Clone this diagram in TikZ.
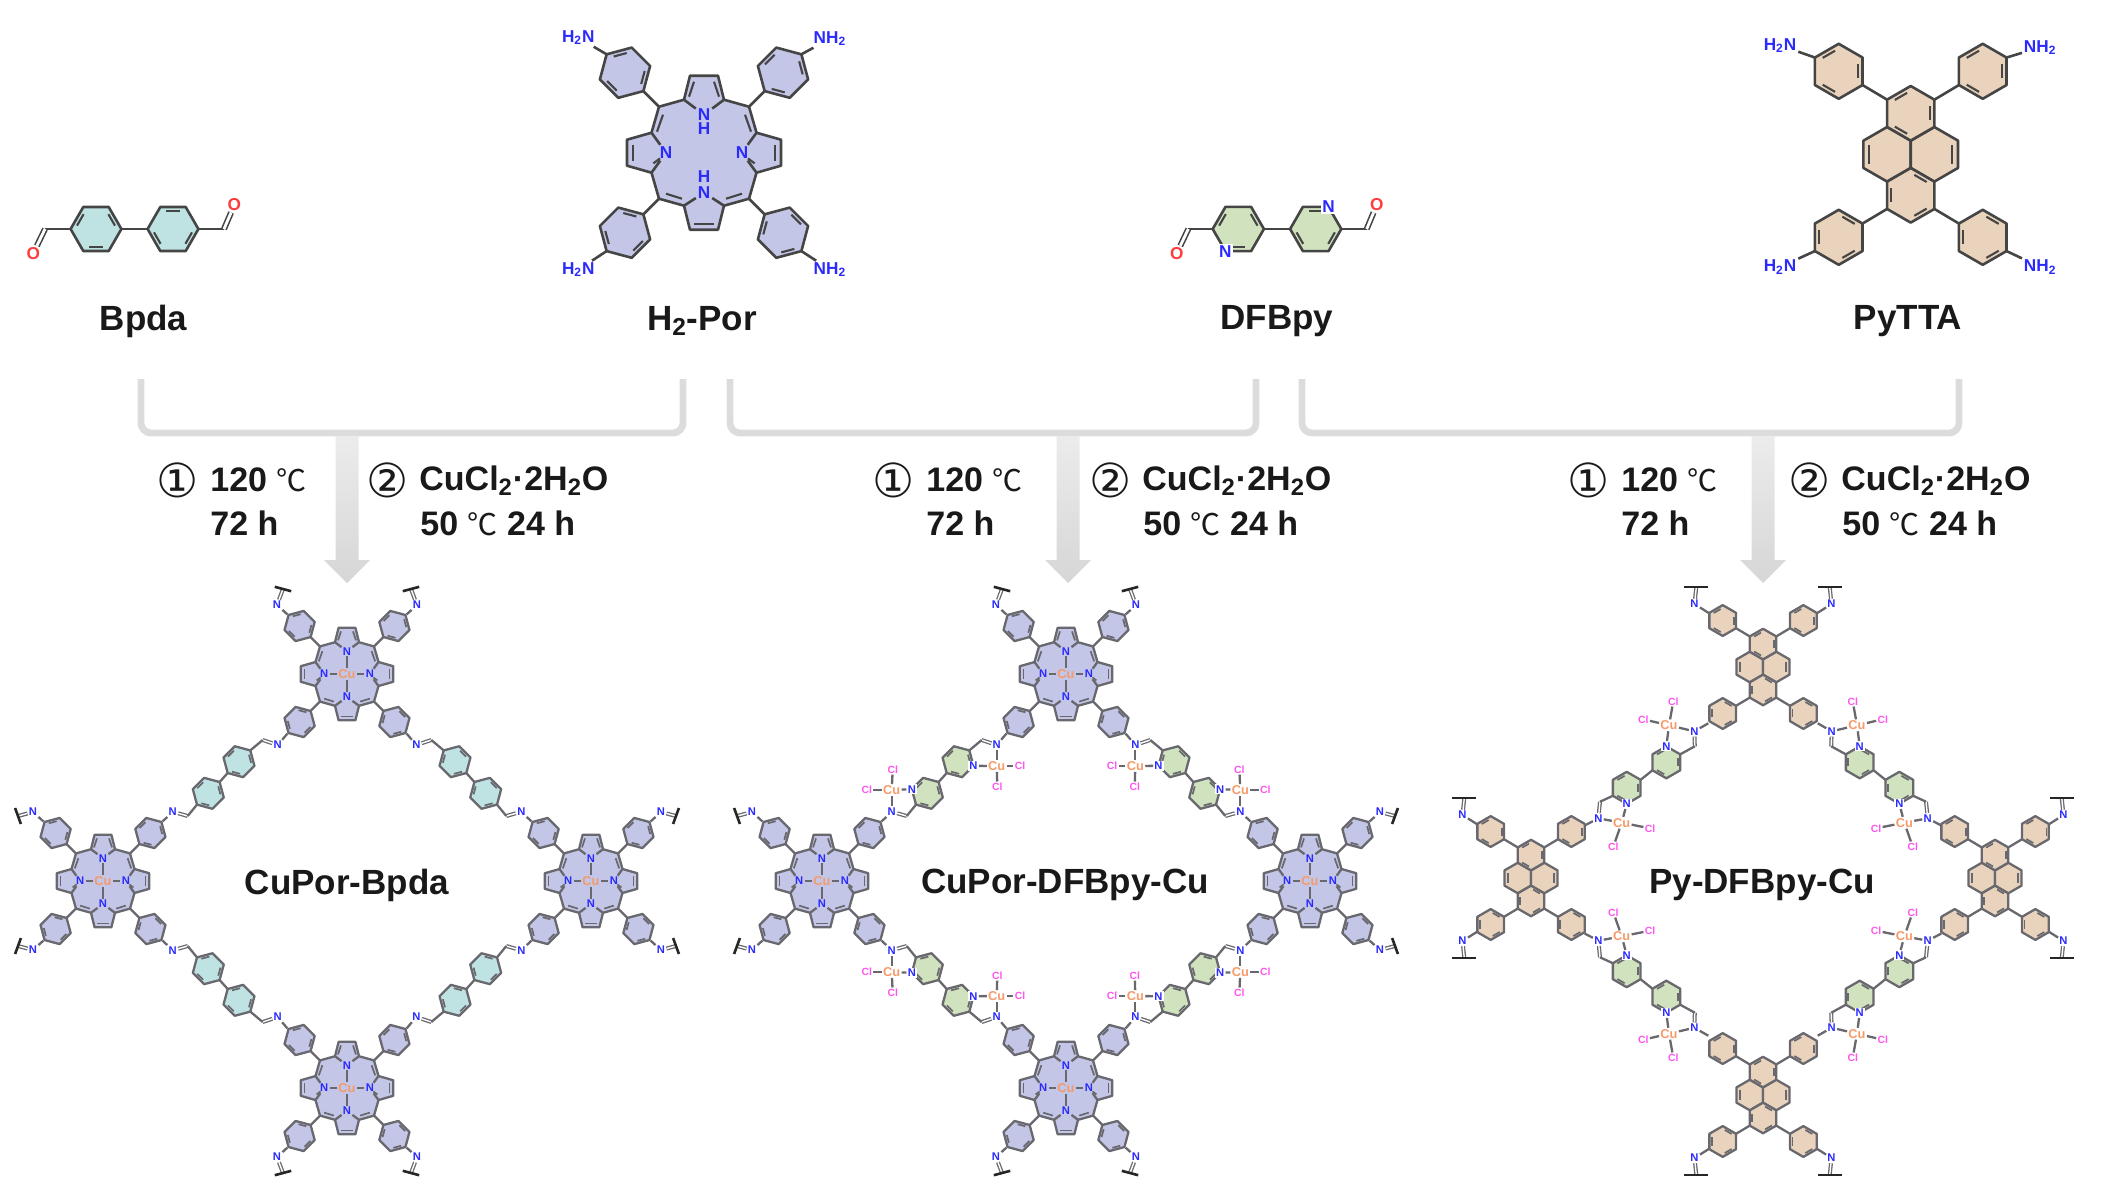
\documentclass[tikz,border=0pt]{standalone}
\usepackage{fontspec}
\setmainfont{Liberation Sans}
\newfontfamily\symf{DejaVu Sans}
\newfontfamily\cjk{Noto Sans CJK SC}
\usetikzlibrary{positioning}

\definecolor{porfill}{HTML}{C3C6E6}
\definecolor{bpdafill}{HTML}{BFE3E3}
\definecolor{bipyfill}{HTML}{D0E2BE}
\definecolor{pyrfill}{HTML}{E9D3BC}
\definecolor{nblue}{HTML}{2A2AFF}
\definecolor{ored}{HTML}{FF3B3B}
\definecolor{cuorange}{HTML}{F59A6A}
\definecolor{clpink}{HTML}{FF55EE}
\definecolor{inkdark}{HTML}{454545}
\definecolor{inkgrey}{HTML}{68686E}
\definecolor{brackgrey}{HTML}{DCDCDC}

\tikzset{
  bigmol/.style={
    bond/.style={draw=inkdark,line width=1.3pt,line join=round},
    inbond/.style={draw=inkdark,line width=1.05pt},
    dblbond/.style={draw=inkdark,line width=.8pt,double=white,double distance=1.4pt},
    nlab/.style={text=nblue,inner sep=.8pt,font=\bfseries\fontsize{8.6}{9}\selectfont}},
  smallmol/.style={
    bond/.style={draw=inkgrey,line width=1.15pt,line join=round},
    inbond/.style={draw=inkgrey,line width=.85pt},
    imine/.style={draw=inkgrey,line width=.65pt,double=white,double distance=.7pt},
    capbar/.style={draw=black!85,line width=1.3pt},
    nlab/.style={text=nblue,inner sep=.5pt,font=\bfseries\fontsize{5.6}{6}\selectfont},
    culab/.style={text=cuorange,inner sep=.5pt,font=\bfseries\fontsize{6.4}{7}\selectfont},
    cllab/.style={text=clpink,inner sep=.5pt,font=\bfseries\fontsize{5.2}{6}\selectfont}},
  namelab/.style={text=black!90,inner sep=0pt,font=\bfseries\fontsize{17.5}{20}\selectfont},
  cond/.style={text=black!90,inner sep=0pt,anchor=base west,font=\bfseries\fontsize{17}{20}\selectfont},
  numlab/.style={text=black!90,inner sep=0pt,font=\symf\fontsize{23.5}{24}\selectfont},
  oxlab/.style={text=ored,inner sep=.5pt,font=\bfseries\fontsize{8.6}{9}\selectfont},
  bracket/.style={draw=brackgrey,line width=3.4pt,rounded corners=5pt}
}

% hexagon: x, y, radius, rotation, fill
\newcommand{\benz}[5]{%
  \begin{scope}[shift={(#1,#2)}]
    \draw[bond,fill=#5] (#4:#3) -- (#4+60:#3) -- (#4+120:#3) -- (#4+180:#3) -- (#4+240:#3) -- (#4+300:#3) -- cycle;
    \foreach \a in {60,180,300}
      \draw[inbond] (#4+\a+10:.76*#3) -- (#4+\a+50:.76*#3);
  \end{scope}}

% porphyrin macrocycle, #1 = distance of the lower N
\newcommand{\porcore}[1]{%
  \draw[bond,fill=porfill] (-45,-46) -- (-20,-53) -- (-14,-77) -- (14,-77) -- (20,-53) -- (45,-46)
    -- (52.5,-20) -- (77,-13) -- (77,13) -- (52.5,20) -- (45,46) -- (20,53) -- (14,77) -- (-14,77)
    -- (-20,53) -- (-45,46) -- (-52.5,20) -- (-77,13) -- (-77,-13) -- (-52.5,-20) -- cycle;
  \node[nlab] (pnt) at (0,-38) {N};
  \node[nlab] (pnb) at (0,#1) {N};
  \node[nlab] (pnl) at (-38,0) {N};
  \node[nlab] (pnr) at (38,0) {N};
  \foreach \sx in {-1,1} {
    \draw[bond] (\sx*20,-53) -- (pnt);
    \draw[bond] (\sx*20,53) -- (pnb);
    \draw[bond] (-52.5,\sx*20) -- (pnl);
    \draw[bond] (52.5,\sx*20) -- (pnr);
    \draw[inbond] (\sx*10,-71) -- (\sx*15,-56);
    \draw[inbond] (\sx*41,-38) -- (\sx*47,-21);
    \draw[inbond] (\sx*71,-8) -- (\sx*71,8);
    \draw[inbond] (\sx*50.7,10.7) -- (\sx*44,5.7);
    \draw[inbond] (\sx*38,41) -- (\sx*22,46);
  }
  \draw[inbond] (-10,71) -- (10,71);
  \foreach \sx/\sy/\rr in {-1/-1/45,1/-1/15,-1/1/75,1/1/-15} {
    \benz{\sx*79}{\sy*80}{26}{\rr}{porfill}
    \draw[bond] (\sx*45,\sy*46) -- (\sx*60.6,\sy*61.6);
  }}

% pyrene with four aryl rings
\newcommand{\pyrcore}{%
  \draw[bond,fill=pyrfill] (0,-13.65) -- (0,13.65) -- (-23.6,27.3) -- (-47.3,13.65) -- (-47.3,-13.65) -- (-23.6,-27.3) -- cycle;
  \draw[bond,fill=pyrfill] (0,-13.65) -- (0,13.65) -- (23.6,27.3) -- (47.3,13.65) -- (47.3,-13.65) -- (23.6,-27.3) -- cycle;
  \draw[inbond] (-41.5,-9.5) -- (-41.5,9.5);
  \draw[inbond] (41.5,-9.5) -- (41.5,9.5);
  \benz{0}{-41}{27.3}{30}{pyrfill}
  \benz{0}{41}{27.3}{-30}{pyrfill}
  \foreach \sx/\sy/\rr in {-1/-1/30,1/-1/30,-1/1/-30,1/1/-30} {
    \benz{\sx*72}{\sy*83}{27.5}{\rr}{pyrfill}
    \draw[bond] (\sx*48.2,\sy*69.25) -- (\sx*23.6,\sy*54.6);
  }}

% imine end on a porphyrin: centre, sx, sy, bar x, bar y, bar angle
\newcommand{\imcap}[7]{%
  \begin{scope}[shift={(#1,#2)}]
    \node[nlab] (capn) at (#3*70,#4*69) {N};
    \coordinate (capb) at (#5,#6);
    \draw[imine] (capn) -- (capb);
    \draw[bond] (capn) -- (#3*59.6,#4*59.6);
    \draw[capbar] ([shift={(#7:8.5)}]capb) -- ([shift={(#7+180:8.5)}]capb);
  \end{scope}}

% imine end on a pyrene: centre, sx, sy
\newcommand{\pycap}[4]{%
  \begin{scope}[shift={(#1,#2)}]
    \node[nlab] (capn) at (#3*68.5,#4*63) {N};
    \coordinate (capb) at (#3*66.7,#4*80);
    \draw[imine] (capn) -- (capb);
    \draw[bond] (capn) -- (#3*53.5,#4*53.5);
    \draw[capbar] ([xshift=6pt]capb) -- ([xshift=-6pt]capb);
  \end{scope}}

% four copper porphyrins with their free ends, #1 = centre x
\newcommand{\pornet}[1]{%
  \foreach \cx/\cy in {#1/674,#1/1088,#1-244/881,#1+244/881} {
    \begin{scope}[shift={(\cx,\cy)},scale=.6]
      \porcore{38}
      \node[culab] (cuc) at (0,0) {Cu};
      \draw[bond] (cuc) -- (pnt);
      \draw[bond] (cuc) -- (pnb);
      \draw[bond] (cuc) -- (pnl);
      \draw[bond] (cuc) -- (pnr);
    \end{scope}
  }
  \foreach \sx in {-1,1} {
    \imcap{#1}{674}{\sx}{-1}{\sx*64}{-85}{-15*\sx}
    \imcap{#1}{1088}{\sx}{1}{\sx*64}{85}{15*\sx}
    \imcap{#1-244}{881}{-1}{\sx}{-85}{\sx*65}{90+20*\sx}
    \imcap{#1+244}{881}{1}{\sx}{85}{\sx*65}{90-20*\sx}
  }}

% biaryl arm: midpoint, xscale, yscale, fill
\newcommand{\linkarm}[5]{%
  \begin{scope}[shift={(#1,#2)},xscale=#3,yscale=#4]
    \benz{14}{-15.8}{16}{15}{#5}
    \benz{-16.7}{15.8}{16}{15}{#5}
    \draw[bond] (2.7,-4.5) -- (-5.4,4.5);
    \node[nlab] (nup) at (52.7,-32.5) {N};
    \node[nlab] (ndn) at (-52.3,34.2) {N};
    \coordinate (chup) at (37.7,-37.5);
    \coordinate (chdn) at (-37.3,38.5);
    \draw[imine] (nup) -- (chup);
    \draw[imine] (ndn) -- (chdn);
    \draw[bond] (chup) -- (25.3,-27.1);
    \draw[bond] (chdn) -- (-28,27.1);
    \draw[bond] (nup) -- (62.4,-43.9);
    \draw[bond] (ndn) -- (-62.4,43.9);
  \end{scope}}

% same arm with two CuCl2 groups
\newcommand{\cuarm}[4]{%
  \linkarm{#1}{#2}{#3}{#4}{bipyfill}
  \begin{scope}[shift={(#1,#2)},xscale=#3,yscale=#4]
    \node[nlab,fill=white] (rna) at (29.5,-11.7) {N};
    \node[nlab,fill=white] (rnb) at (-32.2,11.7) {N};
    \node[culab] (cua) at (52.7,-11.5) {Cu};
    \node[culab] (cub) at (-52.3,12.5) {Cu};
    \node[cllab] (cla) at (76,-11.5) {Cl};
    \node[cllab] (clb) at (53.3,9.2) {Cl};
    \node[cllab] (clc) at (-77.3,12.5) {Cl};
    \node[cllab] (cld) at (-51.3,-8.2) {Cl};
    \draw[bond] (cua) -- (rna);
    \draw[bond] (cua) -- (nup);
    \draw[bond] (cua) -- (cla);
    \draw[bond] (cua) -- (clb);
    \draw[bond] (cub) -- (rnb);
    \draw[bond] (cub) -- (ndn);
    \draw[bond] (cub) -- (clc);
    \draw[bond] (cub) -- (cld);
  \end{scope}}

% pyrene network arm: midpoint, xscale, yscale
\newcommand{\pyarm}[4]{%
  \begin{scope}[shift={(#1-1.7*#3,#2+2.8*#4)},xscale=#3,yscale=#4]
    \benz{-18.6}{12.5}{16}{30}{bipyfill}
    \benz{21}{-13}{16}{30}{bipyfill}
    \draw[bond] (-4.7,4.5) -- (7.1,-5);
    \node[nlab] (nup) at (49,-44) {N};
    \node[nlab] (ndn) at (-47,43) {N};
    \coordinate (chup) at (49.5,-29);
    \coordinate (chdn) at (-45.3,26.4);
    \draw[imine] (nup) -- (chup);
    \draw[imine] (ndn) -- (chdn);
    \draw[bond] (chup) -- (34.9,-21);
    \draw[bond] (chdn) -- (-32.5,20.5);
    \draw[bond] (nup) -- (63,-52);
    \draw[bond] (ndn) -- (-60.6,50.2);
    \node[nlab,fill=white] (rna) at (21,-29) {N};
    \node[nlab,fill=white] (rnb) at (-18.6,28.5) {N};
    \node[culab] (cua) at (23.7,-50) {Cu};
    \node[culab] (cub) at (-23.6,47.4) {Cu};
    \node[cllab] (cla) at (-2,-56) {Cl};
    \node[cllab] (clb) at (28,-74) {Cl};
    \node[cllab] (clc) at (4.7,53) {Cl};
    \node[cllab] (cld) at (-32,71.4) {Cl};
    \draw[bond] (cua) -- (rna);
    \draw[bond] (cua) -- (nup);
    \draw[bond] (cua) -- (cla);
    \draw[bond] (cua) -- (clb);
    \draw[bond] (cub) -- (rnb);
    \draw[bond] (cub) -- (ndn);
    \draw[bond] (cub) -- (clc);
    \draw[bond] (cub) -- (cld);
  \end{scope}}

\begin{document}
\begin{tikzpicture}[x=0.5pt,y=-0.5pt]
\useasboundingbox (0,0) rectangle (2102,1200);

% monomers
\begin{scope}[bigmol]
  \benz{96}{229}{25.4}{0}{bpdafill}
  \benz{173}{229}{25.4}{-60}{bpdafill}
  \draw[bond] (121.4,229) -- (147.6,229);
  \node[oxlab] (oa) at (33.3,253.3) {O};
  \node[oxlab] (ob) at (234.3,205) {O};
  \coordinate (cha) at (45,229);
  \coordinate (chb) at (224,229);
  \draw[bond] (70.6,229) -- (cha);
  \draw[bond] (198.4,229) -- (chb);
  \draw[dblbond] (cha) -- (oa);
  \draw[dblbond] (chb) -- (ob);

  \begin{scope}[shift={(704,152.7)}]
    \porcore{40}
    \node[nlab] (hta) at (0,-24) {H};
    \node[nlab] (htb) at (0,24) {H};
    \node[nlab] (nha) at (-125.7,-115) {H\textsubscript{2}N};
    \node[nlab] (nhb) at (126,-114) {NH\textsubscript{2}};
    \node[nlab] (nhc) at (-125.7,117) {H\textsubscript{2}N};
    \node[nlab] (nhd) at (126,117) {NH\textsubscript{2}};
    \draw[bond] (-97.4,-98.4) -- (nha);
    \draw[bond] (97.4,-98.4) -- (nhb);
    \draw[bond] (-97.4,98.4) -- (nhc);
    \draw[bond] (97.4,98.4) -- (nhd);
  \end{scope}

  \benz{1238.3}{229}{25.6}{0}{bipyfill}
  \benz{1315.7}{229}{25.6}{-60}{bipyfill}
  \draw[bond] (1263.9,229) -- (1290.1,229);
  \node[nlab,fill=white] (na) at (1225.4,251.3) {N};
  \node[nlab,fill=white] (nb) at (1328.6,206.7) {N};
  \node[oxlab] (oc) at (1176.7,253.3) {O};
  \node[oxlab] (od) at (1376.7,205) {O};
  \coordinate (chc) at (1188.3,229);
  \coordinate (chd) at (1366.7,229);
  \draw[bond] (1212.7,229) -- (chc);
  \draw[bond] (1341.3,229) -- (chd);
  \draw[dblbond] (chc) -- (oc);
  \draw[dblbond] (chd) -- (od);

  \begin{scope}[shift={(1910.7,154.3)}]
    \pyrcore
    \node[nlab] (nhe) at (-130.7,-109) {H\textsubscript{2}N};
    \node[nlab] (nhf) at (129.5,-107) {NH\textsubscript{2}};
    \node[nlab] (nhg) at (-130.7,112.7) {H\textsubscript{2}N};
    \node[nlab] (nhh) at (129.5,112.7) {NH\textsubscript{2}};
    \draw[bond] (-95.8,-96.75) -- (nhe);
    \draw[bond] (95.8,-96.75) -- (nhf);
    \draw[bond] (-95.8,96.75) -- (nhg);
    \draw[bond] (95.8,96.75) -- (nhh);
  \end{scope}
\end{scope}

% monomer names
\node[namelab] (bpda) at (143.5,321) {Bpda};
\node[namelab] (hpor) at (702,321) {H\textsubscript{2}-Por};
\node[namelab] (dfbpy) at (1277,321) {DFBpy};
\node[namelab] (pytta) at (1908,321) {PyTTA};

% brackets and arrows
\foreach \bl/\br/\ax in {141/683/347,730/1256/1068,1302/1959/1763} {
  \draw[bracket] (\bl,379) -- (\bl,433) -- (\br,433) -- (\br,379);
  \shade[top color=brackgrey!55,middle color=black!20,bottom color=black!16]
    (\ax-11.5,436) -- (\ax+11.5,436) -- (\ax+11.5,560) -- (\ax+23,560) -- (\ax,583) -- (\ax-23,560) -- (\ax-11.5,560) -- cycle;
}

% reaction conditions
\foreach \dl/\dr/\tg in {0/0/a,716/723/b,1411/1422/c} {
  \node[numlab] (one\tg) at (178+\dl,480) {①};
  \node[cond] (tem\tg) at (210+\dl,491.5) {120 {\cjk\mdseries\fontsize{15}{15}\selectfont ℃}};
  \node[cond] (tim\tg) at (210+\dl,535.5) {72 h};
  \node[numlab] (two\tg) at (388+\dr,480) {②};
  \node[cond] (sal\tg) at (419+\dr,490.5) {CuCl\textsubscript{2}·2H\textsubscript{2}O};
  \node[cond] (con\tg) at (420+\dr,535.5) {50 {\cjk\mdseries\fontsize{15}{15}\selectfont ℃} 24 h};
}

% networks
\begin{scope}[smallmol]
  \pornet{347}
  \foreach \mx/\xs in {225/1,469/-1} {
    \linkarm{\mx}{777.5}{\xs}{1}{bpdafill}
    \linkarm{\mx}{984.5}{\xs}{-1}{bpdafill}
  }
  \pornet{1066}
  \foreach \mx/\xs in {944/1,1188/-1} {
    \cuarm{\mx}{777.5}{\xs}{1}
    \cuarm{\mx}{984.5}{\xs}{-1}
  }
  \foreach \cx/\cy in {1763/667,1763/1095,1531/878,1995/878} {
    \begin{scope}[shift={(\cx,\cy)},scale=.56]
      \pyrcore
    \end{scope}
  }
  \foreach \cx/\cy/\sx/\sy in {1763/667/-1/-1,1763/667/1/-1,1763/1095/-1/1,1763/1095/1/1,
      1531/878/-1/-1,1531/878/-1/1,1995/878/1/-1,1995/878/1/1} {
    \pycap{\cx}{\cy}{\sx}{\sy}
  }
  \foreach \mx/\xs in {1647/1,1879/-1} {
    \pyarm{\mx}{772.5}{\xs}{1}
    \pyarm{\mx}{986.5}{\xs}{-1}
  }
\end{scope}

% network names
\node[namelab] (cuporbpda) at (347,885) {CuPor-Bpda};
\node[namelab] (cupordfb) at (1065,885) {CuPor-DFBpy-Cu};
\node[namelab] (pydfb) at (1762,885) {Py-DFBpy-Cu};

\end{tikzpicture}
\end{document}
